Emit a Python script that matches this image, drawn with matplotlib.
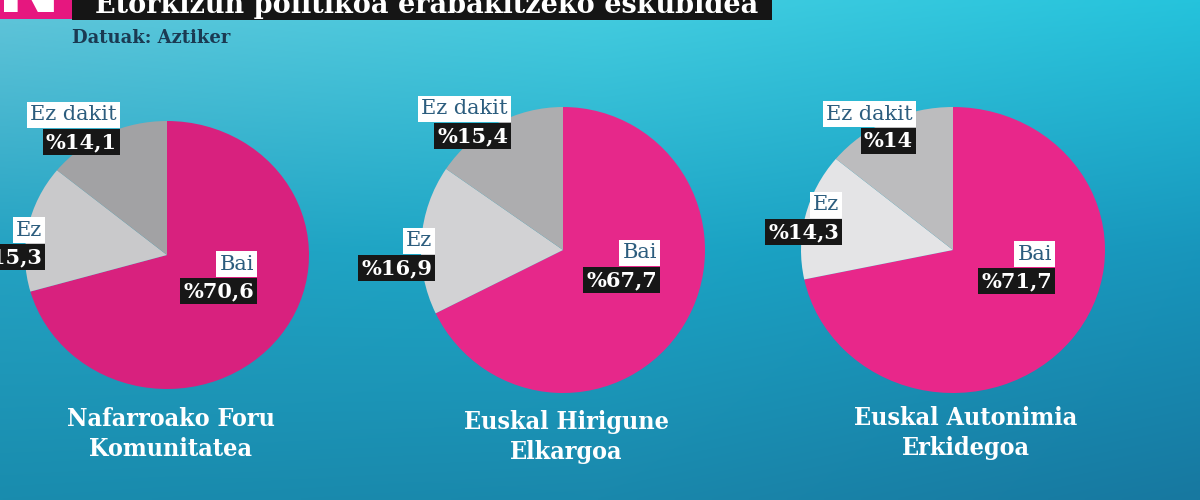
import numpy as np
import matplotlib
matplotlib.use("Agg")
import matplotlib.pyplot as plt
from matplotlib.patches import Rectangle

# data
regions = ["Nafarroako Foru\nKomunitatea", "Euskal Hirigune\nElkargoa", "Euskal Autonimia\nErkidegoa"]
categories = ["Bai", "Ez", "Ez dakit"]
bai = [70.6, 67.7, 71.7]
ez = [15.3, 16.9, 14.3]
ez_dakit = [14.1, 15.4, 14.0]

title = "Etorkizun politikoa erabakitzeko eskubidea"
source = "Datuak: Aztiker"

# layout in pixels (x, y from top)
pie_boxes = [(167, 255, 142, 134), (563, 250, 142, 143), (953, 250, 152, 143)]
pie_colors = [["#d8217e", "#c9c9cb", "#a2a2a4"],
              ["#e6288a", "#d2d2d4", "#adadaf"],
              ["#e8278a", "#e4e4e6", "#bcbcbe"]]
# label anchors: right edge, junction between the two boxes
label_pos = [[(258, 278), (46, 244), (121, 129)],
             [(661, 267), (436, 255), (512, 123)],
             [(1056, 268), (843, 219), (917, 128)]]
title_pos = [(171, 434), (566, 437), (966, 433)]

W, H = 1200, 500
fig = plt.figure(figsize=(12, 5), dpi=100)

# background gradient
bg = fig.add_axes([0, 0, 1, 1])
xs = np.linspace(0, 1, 200)
top = np.array([[0x62, 0xc6, 0xda], [0x45, 0xcd, 0xe0], [0x25, 0xc3, 0xdc]]) / 255
mid = np.array([[0x24, 0xa2, 0xc2], [0x1c, 0xa6, 0xc6], [0x18, 0x96, 0xbc]]) / 255
bot = np.array([[0x19, 0x8c, 0xae], [0x1a, 0x88, 0xac], [0x17, 0x78, 0xa0]]) / 255
def row(c):
    return np.stack([np.interp(xs, [0, 0.5, 1], c[:, k]) for k in range(3)], axis=1)
rt, rm, rb = row(top), row(mid), row(bot)
ys = np.linspace(0, 1, 120)[:, None, None]
img = np.where(ys < 0.5, rt + (rm - rt) * (ys / 0.5), rm + (rb - rm) * ((ys - 0.5) / 0.5))
bg.imshow(img, extent=(0, W, H, 0), aspect="auto", interpolation="bilinear")
bg.set_xlim(0, W)
bg.set_ylim(H, 0)
bg.axis("off")

# pies
for i, (cx, cy, rx, ry) in enumerate(pie_boxes):
    ax = fig.add_axes([(cx - rx) / W, (H - cy - ry) / H, 2 * rx / W, 2 * ry / H])
    ax.pie([bai[i], ez[i], ez_dakit[i]], colors=pie_colors[i], startangle=90,
           counterclock=False, radius=1, wedgeprops=dict(linewidth=0))
    ax.set_xlim(-1, 1)
    ax.set_ylim(-1, 1)
    ax.set_aspect("auto")
    ax.axis("off")

# overlay with texts
ov = fig.add_axes([0, 0, 1, 1])
ov.set_xlim(0, W)
ov.set_ylim(H, 0)
ov.axis("off")
ov.patch.set_alpha(0)

logo = Rectangle((0, 0), 72, 19, fc="#e6177f", ec="none")
ov.add_patch(logo)
ov.add_patch(Rectangle((72, 0), 700, 20, fc="#151515", ec="none"))
n = ov.text(-3, 12, "N", color="white", fontsize=55, fontweight="bold",
            family="DejaVu Sans", va="baseline", ha="left")
n.set_clip_path(logo)
ov.text(95, 13, title, color="white", fontsize=19.5, fontweight="bold",
        family="DejaVu Serif", va="baseline", ha="left")
ov.text(72, 43, source, color="#1b3a52", fontsize=13, fontweight="bold",
        family="DejaVu Serif", va="baseline", ha="left")

fs = 15
for i in range(3):
    vals = [bai[i], ez[i], ez_dakit[i]]
    for j, cat in enumerate(categories):
        x, y = label_pos[i][j]
        ov.text(x - 4, y - 14, cat, color="#2c5d7e", fontsize=fs, family="DejaVu Serif",
                ha="right", va="center",
                bbox=dict(boxstyle="square,pad=0.15", fc="white", ec="none"))
        txt = "%" + f"{vals[j]:g}".replace(".", ",")
        ov.text(x - 4, y + 13, txt, color="white", fontsize=fs, fontweight="bold",
                family="DejaVu Serif", ha="right", va="center",
                bbox=dict(boxstyle="square,pad=0.15", fc="#171717", ec="none"))
    tx, ty = title_pos[i]
    ov.text(tx, ty, regions[i], color="white", fontsize=18, fontweight="bold",
            family="DejaVu Serif", fontstretch="condensed", ha="center", va="center",
            linespacing=1.3)

fig.savefig("out.png", dpi=100)
